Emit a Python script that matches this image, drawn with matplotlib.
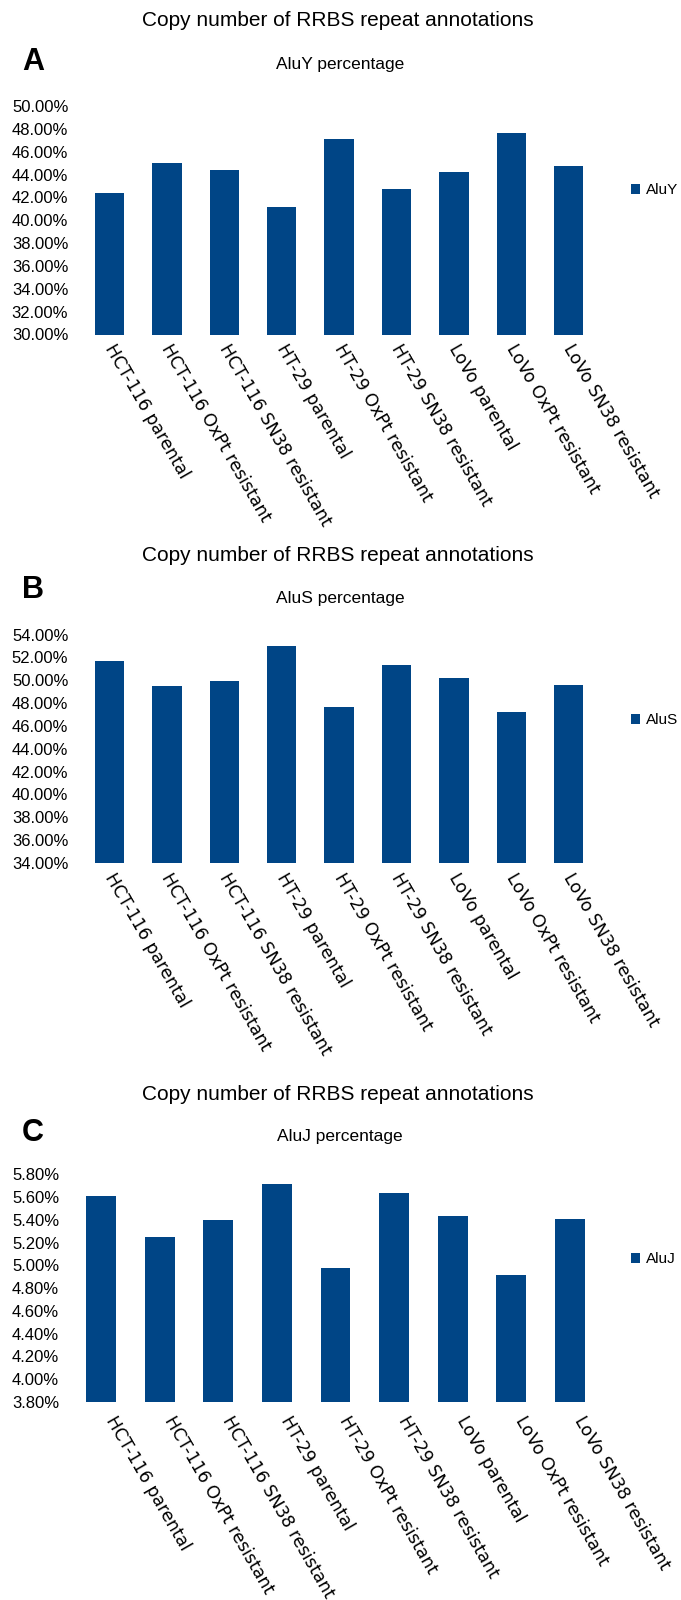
import matplotlib
matplotlib.use("Agg")
import matplotlib.pyplot as plt
import matplotlib.transforms as mtransforms
from matplotlib.ticker import FuncFormatter, MultipleLocator

# cell lines (x categories)
cell_lines = ["HCT-116 parental", "HCT-116 OxPt resistant", "HCT-116 SN38 resistant",
              "HT-29 parental", "HT-29 OxPt resistant", "HT-29 SN38 resistant",
              "LoVo parental", "LoVo OxPt resistant", "LoVo SN38 resistant"]

# percentages
aluy = [42.35, 44.98, 44.36, 41.12, 47.08, 42.70, 44.19, 47.60, 44.72]
alus = [51.72, 49.53, 49.97, 52.95, 47.69, 51.37, 50.15, 47.26, 49.62]
aluj = [5.615, 5.253, 5.403, 5.712, 4.979, 5.641, 5.438, 4.918, 5.412]

W, H = 681, 1600
BLUE = "#004586"
SANS = "Liberation Sans"

fig = plt.figure(figsize=(W / 100, H / 100), dpi=100)


def px_axes(left, right, top, bottom):
    # pixel box -> figure fraction
    return fig.add_axes([left / W, 1 - bottom / H, (right - left) / W, (bottom - top) / H])


def panel(letter, name, values, ylim, step, box, title_y, sub_y, letter_y, legend_y, lab_dx, lab_dy):
    ax = px_axes(*box)
    ax.bar(range(len(values)), values, width=0.51, color=BLUE, label=name)
    ax.set_xlim(-0.5, len(values) - 0.5)
    ax.set_ylim(*ylim)
    ax.yaxis.set_major_locator(MultipleLocator(step))
    ax.yaxis.set_major_formatter(FuncFormatter(lambda v, p: "{:.2f}%".format(v)))
    for s in ax.spines.values():
        s.set_visible(False)
    ax.tick_params(axis="both", length=0)
    ax.tick_params(axis="y", pad=9)
    for t in ax.get_yticklabels():
        t.set_fontfamily(SANS)
        t.set_fontsize(12)

    # rotated category labels, baseline start placed relative to bar centre
    ax.set_xticks(range(len(values)))
    ax.set_xticklabels(cell_lines, rotation=-60, ha="left", va="baseline",
                       rotation_mode="anchor", fontsize=12.5, family="DejaVu Sans")
    ax.tick_params(axis="x", pad=0)
    off = mtransforms.ScaledTranslation(lab_dx / 100, -lab_dy / 100, fig.dpi_scale_trans)
    for t in ax.get_xticklabels():
        t.set_transform(t.get_transform() + off)

    ax.legend(loc="center left", bbox_to_anchor=(631 / W, 1 - legend_y / H),
              bbox_transform=fig.transFigure, frameon=False, prop={"family": SANS, "size": 11},
              handlelength=0.62, handleheight=0.62, handletextpad=0.35,
              borderpad=0, borderaxespad=0)

    fig.text(338 / W, 1 - title_y / H, "Copy number of RRBS repeat annotations",
             ha="center", va="center", family=SANS, fontsize=15)
    fig.text(340 / W, 1 - sub_y / H, name + " percentage",
             ha="center", va="center", family=SANS, fontsize=12.5)
    fig.text(22 / W, 1 - letter_y / H, letter, ha="left", va="center",
             family=SANS, fontsize=22, fontweight="bold")
    return ax


panel("A", "AluY", aluy, (30, 50), 2, (80.8, 597.4, 106, 334.5), 20.5, 65, 62, 190, -5.5, 14)
panel("B", "AluS", alus, (34, 54), 2, (80.8, 597.4, 634.5, 863), 556, 599, 590, 720, -5.5, 14)
panel("C", "AluJ", aluj, (3.8, 5.8), 0.2, (71.7, 599.3, 1174.5, 1401.7), 1094.5, 1137, 1133, 1259, 4, 17.8)

fig.savefig("out.png", dpi=100)
